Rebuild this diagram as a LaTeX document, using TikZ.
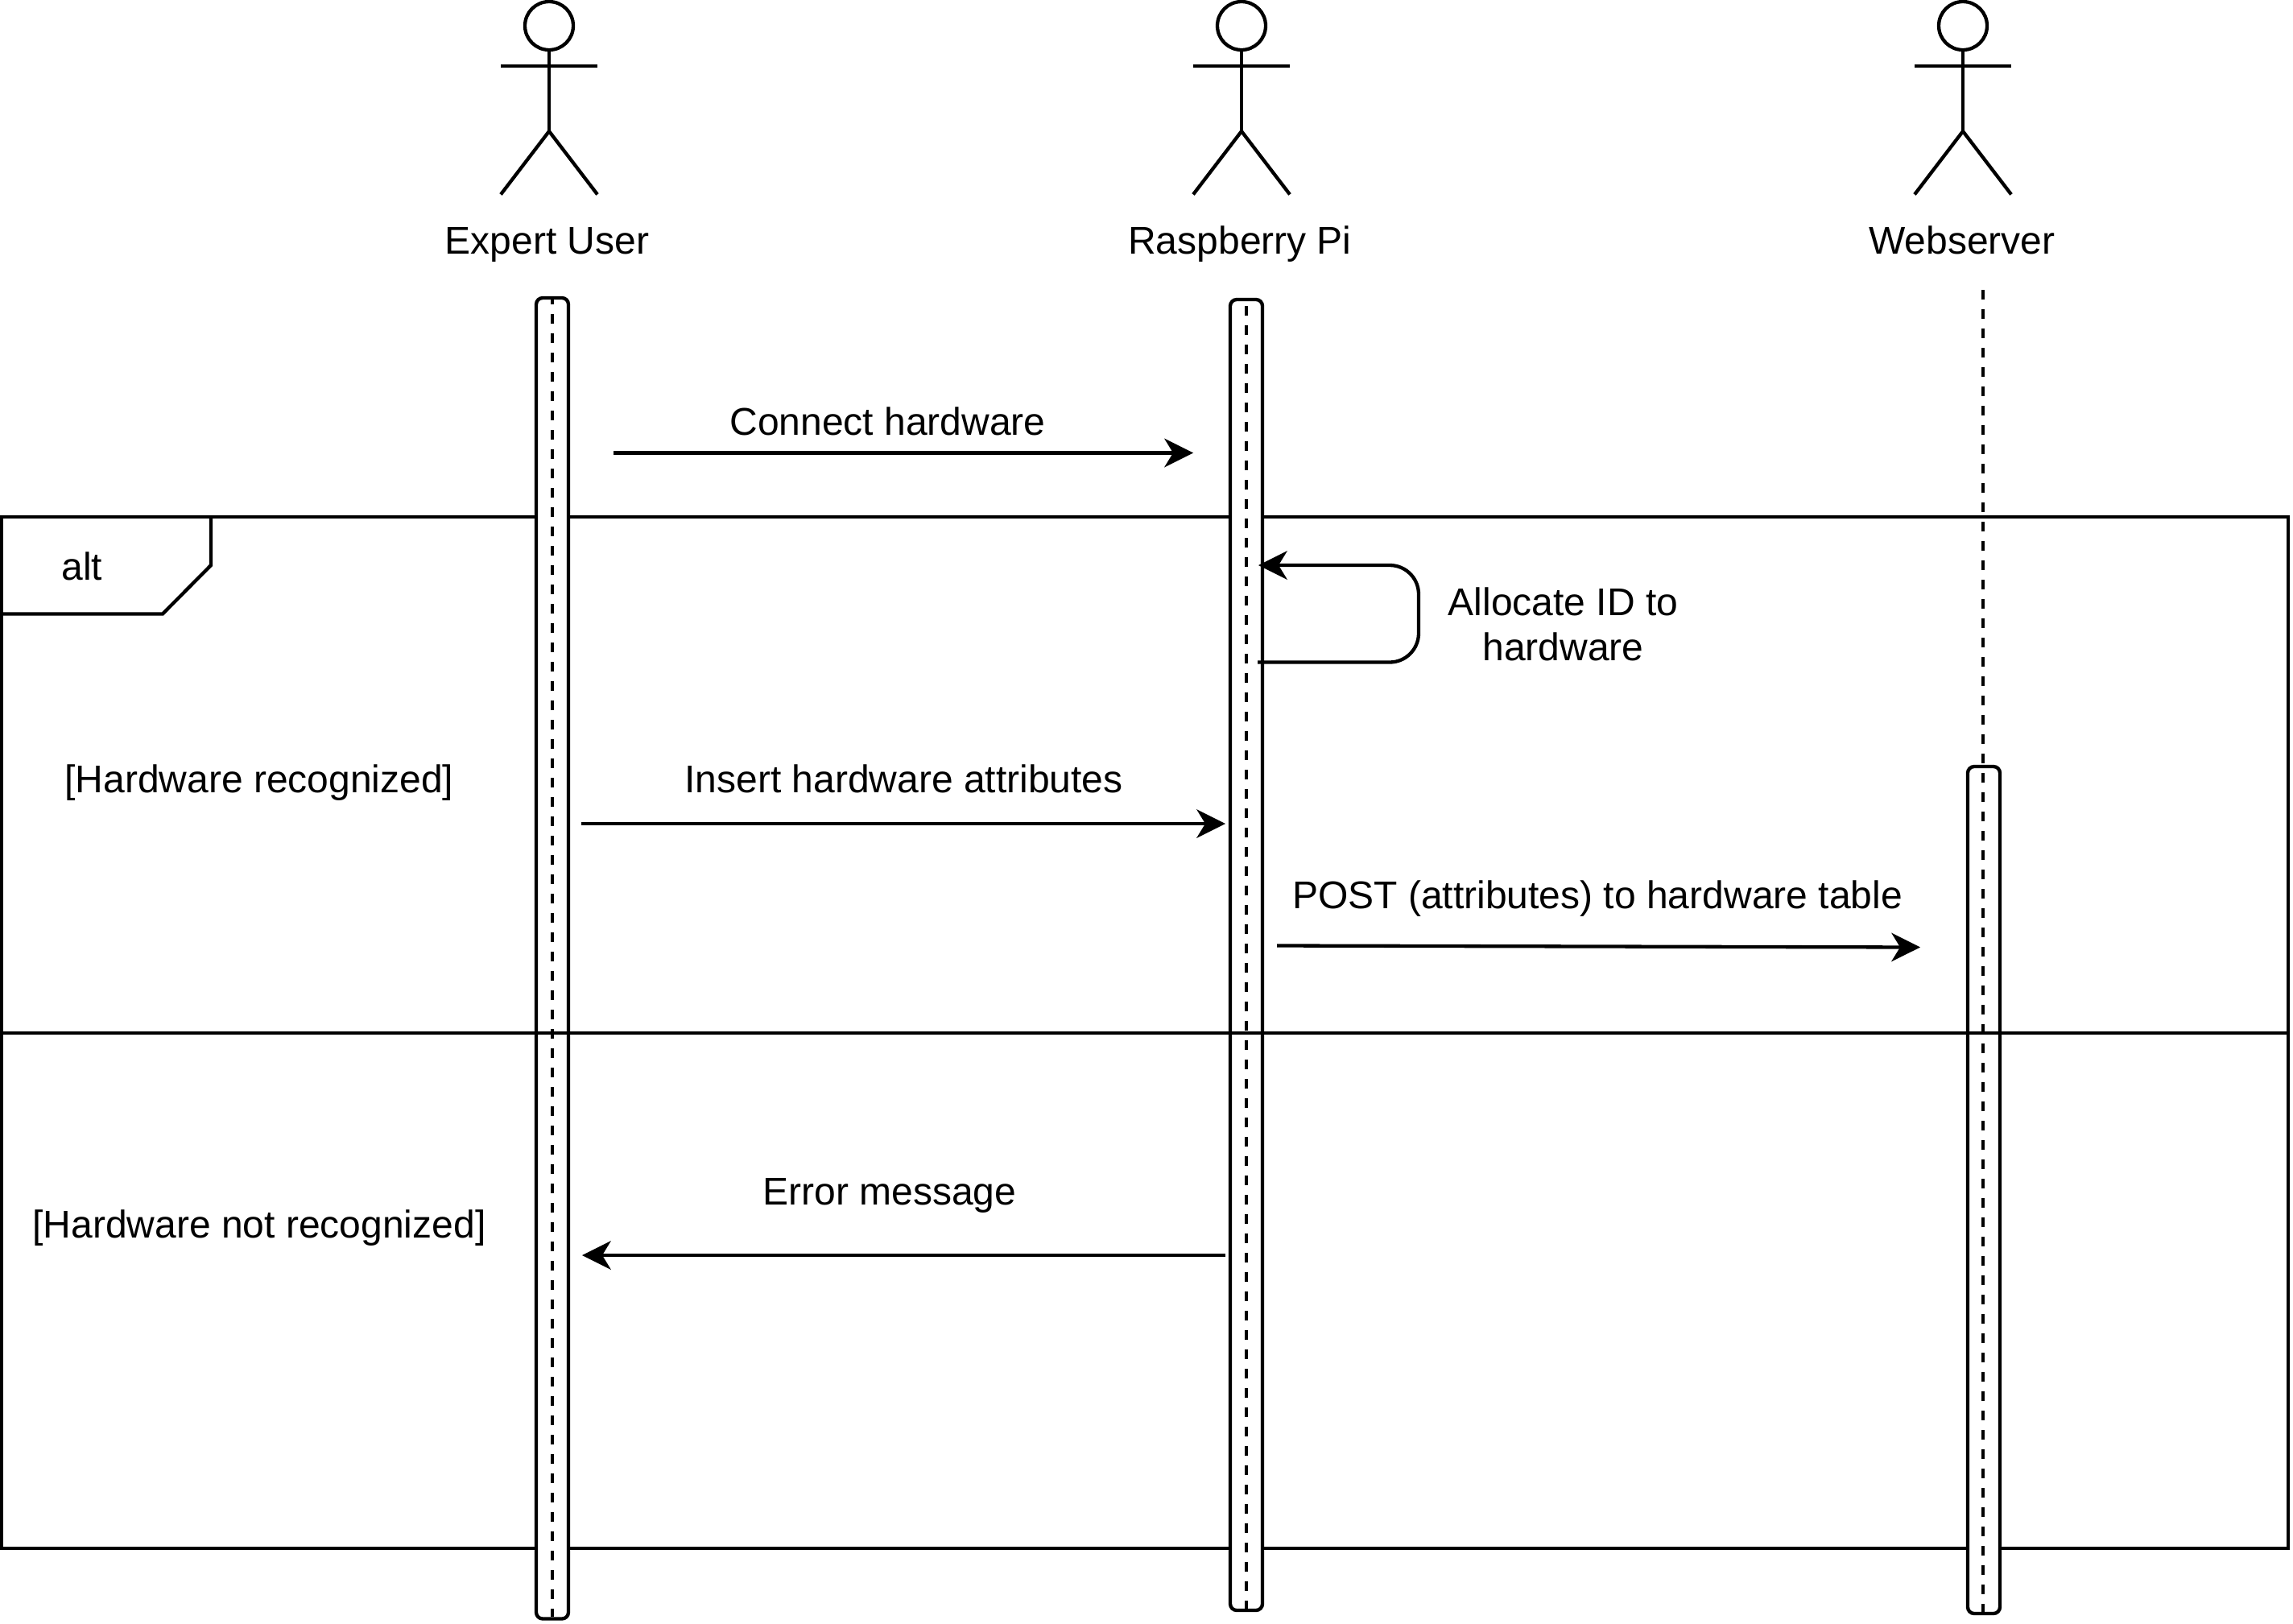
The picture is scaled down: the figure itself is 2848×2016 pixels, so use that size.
\documentclass[tikz,border=0pt]{standalone}
\usepackage{fontspec}
\setmainfont{Liberation Sans}
\usetikzlibrary{arrows.meta}
\tikzset{
  base line/.style={line width=4.3pt,draw=black},
  lifebox/.style={base line,fill=white,rounded corners=8pt,minimum width=40pt,inner sep=0pt,outer sep=0pt},
  lifedash/.style={line width=4.3pt,draw=black,dash pattern=on 12pt off 12pt},
  msg/.style={base line,-{Stealth[length=36pt,width=36pt,inset=11pt,line width=0pt]}},
  lbl/.style={anchor=base,inner sep=0pt,outer sep=0pt,font=\fontsize{48}{57}\selectfont,align=center},
  figure/.pic={
    \draw[base line] (0,32) circle[radius=30];
    \draw[base line] (0,62) -- (0,163);
    \draw[base line] (-60,82) -- (60,82);
    \draw[base line] (-60,241.5) -- (0,163) -- (60,241.5);
  }
}
\begin{document}
\begin{tikzpicture}[x=1pt,y=-1pt]
\useasboundingbox (0,0) rectangle (2848,2016);
% combined fragment frame
\draw[base line] (2,642) rectangle (2842,1923);
\draw[base line] (2,762.5) -- (202,762.5) -- (262,702) -- (262,642);
% actors
\pic at (682,0) {figure};
\pic at (1542,0) {figure};
\pic at (2438,0) {figure};
\node[lbl] (userlabel) at (679.5,315) {Expert User};
\node[lbl] (pilabel) at (1540,315) {Raspberry Pi};
\node[lbl] (weblabel) at (2437,315) {Webserver};
% activation boxes
\node[lifebox,minimum height=1640.5pt] (boxu) at (686,1190.25) {};
\node[lifebox,minimum height=1628pt] (boxp) at (1548,1186) {};
\node[lifebox,minimum height=1052pt] (boxw) at (2464,1478) {};
% lifelines
\coordinate (utop) at (686,370);
\coordinate (ubot) at (686,2008);
\coordinate (ptop) at (1548,380);
\coordinate (pbot) at (1548,2000);
\coordinate (wtop) at (2463,360);
\coordinate (wbot) at (2463,2004);
\draw[lifedash,dash phase=4pt] (utop) -- (ubot);
\draw[lifedash] (ptop) -- (pbot);
\draw[lifedash] (wtop) -- (wbot);
% operand divider
\draw[base line] (2,1283) -- (2842,1283);
% messages
\coordinate (m1a) at (762,562.5);
\coordinate (m1b) at (1482,562.5);
\draw[msg] (m1a) -- (m1b);
\coordinate (loopa) at (1562,822.5);
\coordinate (loopr) at (1762,822.5);
\coordinate (loops) at (1762,702);
\coordinate (loopb) at (1563,702);
\draw[msg,rounded corners=36pt] (loopa) -- (loopr) -- (loops) -- (loopb);
\coordinate (m2a) at (722,1023);
\coordinate (m2b) at (1522,1023);
\draw[msg] (m2a) -- (m2b);
\coordinate (m3a) at (1586,1174.5);
\coordinate (m3b) at (2385,1176.5);
\draw[msg] (m3a) -- (m3b);
\coordinate (m4a) at (1522,1559);
\coordinate (m4b) at (723,1559);
\draw[msg] (m4a) -- (m4b);
% labels
\node[lbl] (altlabel) at (102,720) {alt};
\node[lbl] (t1) at (1102.5,540) {Connect hardware};
\node[lbl] (t2a) at (1941.5,764.5) {Allocate ID to};
\node[lbl] (t2b) at (1941.5,820) {hardware};
\node[lbl] (g1) at (322,984) {[Hardware recognized]};
\node[lbl] (t3) at (1122.5,984) {Insert hardware attributes};
\node[lbl] (t4) at (1984,1128) {POST (attributes) to hardware table};
\node[lbl] (t5) at (1105,1496) {Error message};
\node[lbl] (g2) at (322,1537) {[Hardware not recognized]};
\end{tikzpicture}
\end{document}
